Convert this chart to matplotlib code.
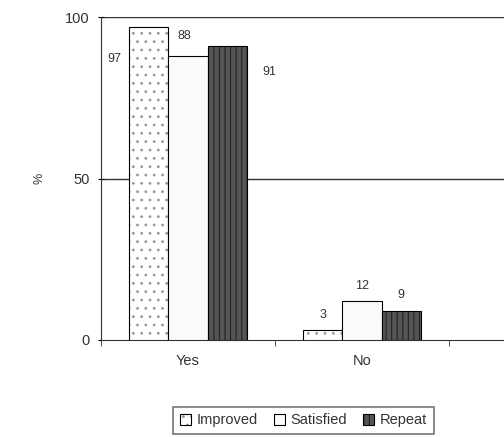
import numpy as np
import matplotlib.pyplot as plt

plt.rcParams['font.family'] = ['Liberation Sans', 'DejaVu Sans']
plt.rcParams['hatch.linewidth'] = 0.8

categories = ['Yes', 'No']
series = ['Improved', 'Satisfied', 'Repeat']
improved = [97, 3]
satisfied = [88, 12]
repeat = [91, 9]

fig = plt.figure(figsize=(5.04, 4.37), dpi=100)
ax = fig.add_axes([0.2004, 0.222, 0.7996, 0.739])

x = np.arange(len(categories))
w = 0.225
styles = [
    dict(facecolor='white', hatch='..', hatch_color='#999999'),
    dict(facecolor='#fbfbfb', hatch=None, hatch_color='black'),
    dict(facecolor='#555555', hatch='|||', hatch_color='#222222'),
]
for i, (vals, st) in enumerate(zip([improved, satisfied, repeat], styles)):
    b = ax.bar(x + (i - 1) * w, vals, w, facecolor=st['facecolor'],
               edgecolor='black', linewidth=0.8, hatch=st['hatch'],
               label=series[i], zorder=3)
    for p in b:
        p._hatch_color = plt.matplotlib.colors.to_rgba(st['hatch_color'])

# value labels
lab = dict(fontsize=9, color='#333333', zorder=5)
ax.text(x[0] - w - 0.2, improved[0] - 10, str(improved[0]), ha='center', va='center', **lab)
ax.text(x[0] - 0.02, satisfied[0] + 6, str(satisfied[0]), ha='center', va='center', **lab)
ax.text(x[0] + w + 0.24, repeat[0] - 8, str(repeat[0]), ha='center', va='center', **lab)
for i, vals in enumerate([improved, satisfied, repeat]):
    ax.text(x[1] + (i - 1) * w, vals[1] + 4.8, str(vals[1]), ha='center', va='center', **lab)

ax.set_xlim(-0.5, 1.816)
ax.set_ylim(0, 100)
ax.set_yticks([0, 50, 100])
ax.set_xticks(x)
ax.set_xticklabels(categories, fontsize=10.5, color='#333333')
ax.set_xticks([-0.5, 0.5, 1.5], minor=True)
ax.tick_params(axis='x', which='major', length=0, pad=10)
ax.tick_params(axis='x', which='minor', length=4, direction='out', color='#333333')
ax.tick_params(axis='y', length=4, direction='inout', labelsize=10.5, labelcolor='#333333', pad=6)
ax.set_ylabel('%', fontsize=9, color='#333333', labelpad=14)

for y in [50, 100]:
    ax.axhline(y, color='#333333', linewidth=1.0, zorder=1)

for s in ['top', 'right']:
    ax.spines[s].set_visible(False)
ax.spines['left'].set_color('#333333')
ax.spines['bottom'].set_color('#333333')

leg = fig.legend(loc='center', bbox_to_anchor=(0.602, 0.038), ncol=3, fontsize=10.5,
                 frameon=True, fancybox=False, edgecolor='#555555',
                 handlelength=0.75, handleheight=0.75, handletextpad=0.4,
                 columnspacing=1.1, borderpad=0.45)
leg.get_frame().set_linewidth(1.2)
for t in leg.get_texts():
    t.set_color('#333333')

fig.savefig('out.png', dpi=100)
